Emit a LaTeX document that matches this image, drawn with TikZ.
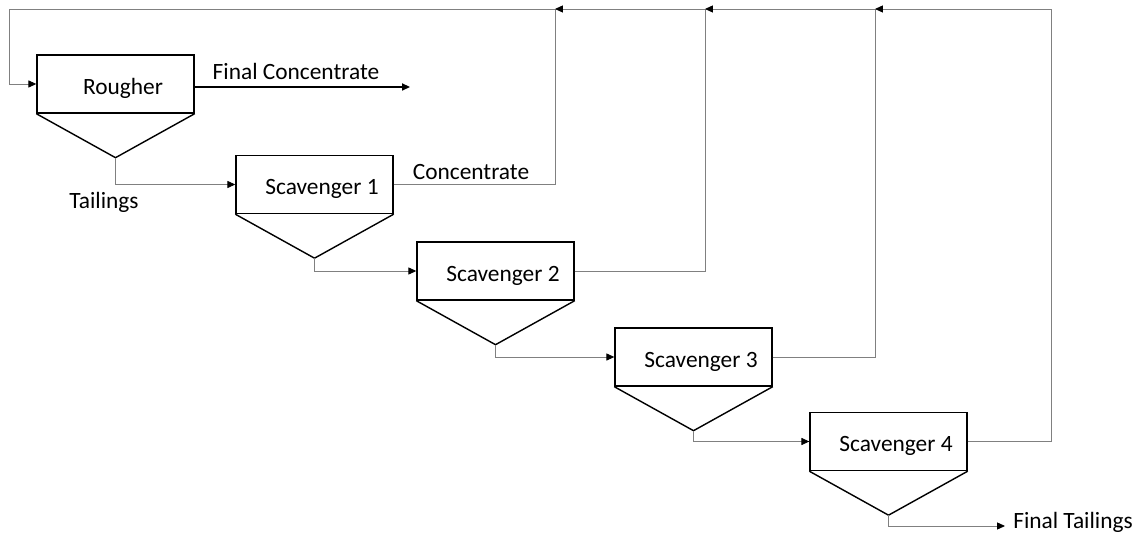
\documentclass[tikz,border=0pt]{standalone}
\usepackage{fontspec}
\setmainfont{Carlito}
\usepackage{tikz}
\usetikzlibrary{arrows.meta,calc,positioning}

\begin{document}
\begin{tikzpicture}[x=0.02cm, y=-0.02cm,
		flow/.style = {draw=gray, line width=0.5pt, -{Triangle[length=4.5pt,width=4pt,color=black]}},
		font=\fontsize{13.3}{16}\selectfont]
		\tikzset{cell/.style={draw=black, line width=0.8pt, rectangle, minimum width=3.14cm, minimum height=1.16cm, inner sep=0pt, text height=11.5pt, text depth=0pt, execute at begin node=\hspace{3mm}}}

		\useasboundingbox (0,0) rectangle (1141,536);

		% Cells
		\node[cell] (rougher) at (115.5,84) {Rougher};
		\node[cell] (scav1) at (314.5,184.5) {Scavenger 1};
		\node[cell] (scav2) at (495.5,271) {Scavenger 2};
		\node[cell] (scav3) at (693.5,357) {Scavenger 3};
		\node[cell] (scav4) at (888.5,441.5) {Scavenger 4};

		% Cones
		\coordinate (rougherapex) at ($(rougher.south)+(0,44)$);
		\coordinate (scav1apex) at ($(scav1.south)+(0,44)$);
		\coordinate (scav2apex) at ($(scav2.south)+(0,44)$);
		\coordinate (scav3apex) at ($(scav3.south)+(0,44)$);
		\coordinate (scav4apex) at ($(scav4.south)+(0,44)$);

		\draw[line width=0.8pt] (rougher.south west) -- (rougherapex) -- (rougher.south east);
		\draw[line width=0.8pt] (scav1.south west) -- (scav1apex) -- (scav1.south east);
		\draw[line width=0.8pt] (scav2.south west) -- (scav2apex) -- (scav2.south east);
		\draw[line width=0.8pt] (scav3.south west) -- (scav3apex) -- (scav3.south east);
		\draw[line width=0.8pt] (scav4.south west) -- (scav4apex) -- (scav4.south east);

		% Recycle line corners
		\coordinate (topleft) at (9,9);
		\coordinate (top1) at (555,9);
		\coordinate (top2) at (705,9);
		\coordinate (top3) at (875,9);
		\coordinate (top4) at (1051,9);

		% Product ends
		\coordinate (fcend) at (410,87);
		\coordinate (ftend) at (1005,526);

		% Labels
		\node (fclabel) at (296,71) {Final Concentrate};
		\node (tlabel) at (104,202) {Tailings};
		\node (clabel) at (471,172) {Concentrate};
		\node (ftlabel) at (1073,522) {Final Tailings};

		% Arrows
		\draw[line width=0.9pt, -{Triangle[length=4.5pt,width=4pt]}] (rougher.east |- fcend) -- (fcend);
		\draw[flow] (rougherapex) |- (scav1);
		\draw[flow] (scav1apex) |- (scav2);
		\draw[flow] (scav2apex) |- (scav3);
		\draw[flow] (scav3apex) |- (scav4);
		\draw[flow] (scav4apex) |- (ftend);

		\draw[flow] (scav1) -| (top1) -- (topleft) |- (rougher);
		\draw[flow] (scav2) -| (top2) -- (top1);
		\draw[flow] (scav3) -| (top3) -- (top2);
		\draw[flow] (scav4) -| (top4) -- (top3);

	\end{tikzpicture}
\end{document}
